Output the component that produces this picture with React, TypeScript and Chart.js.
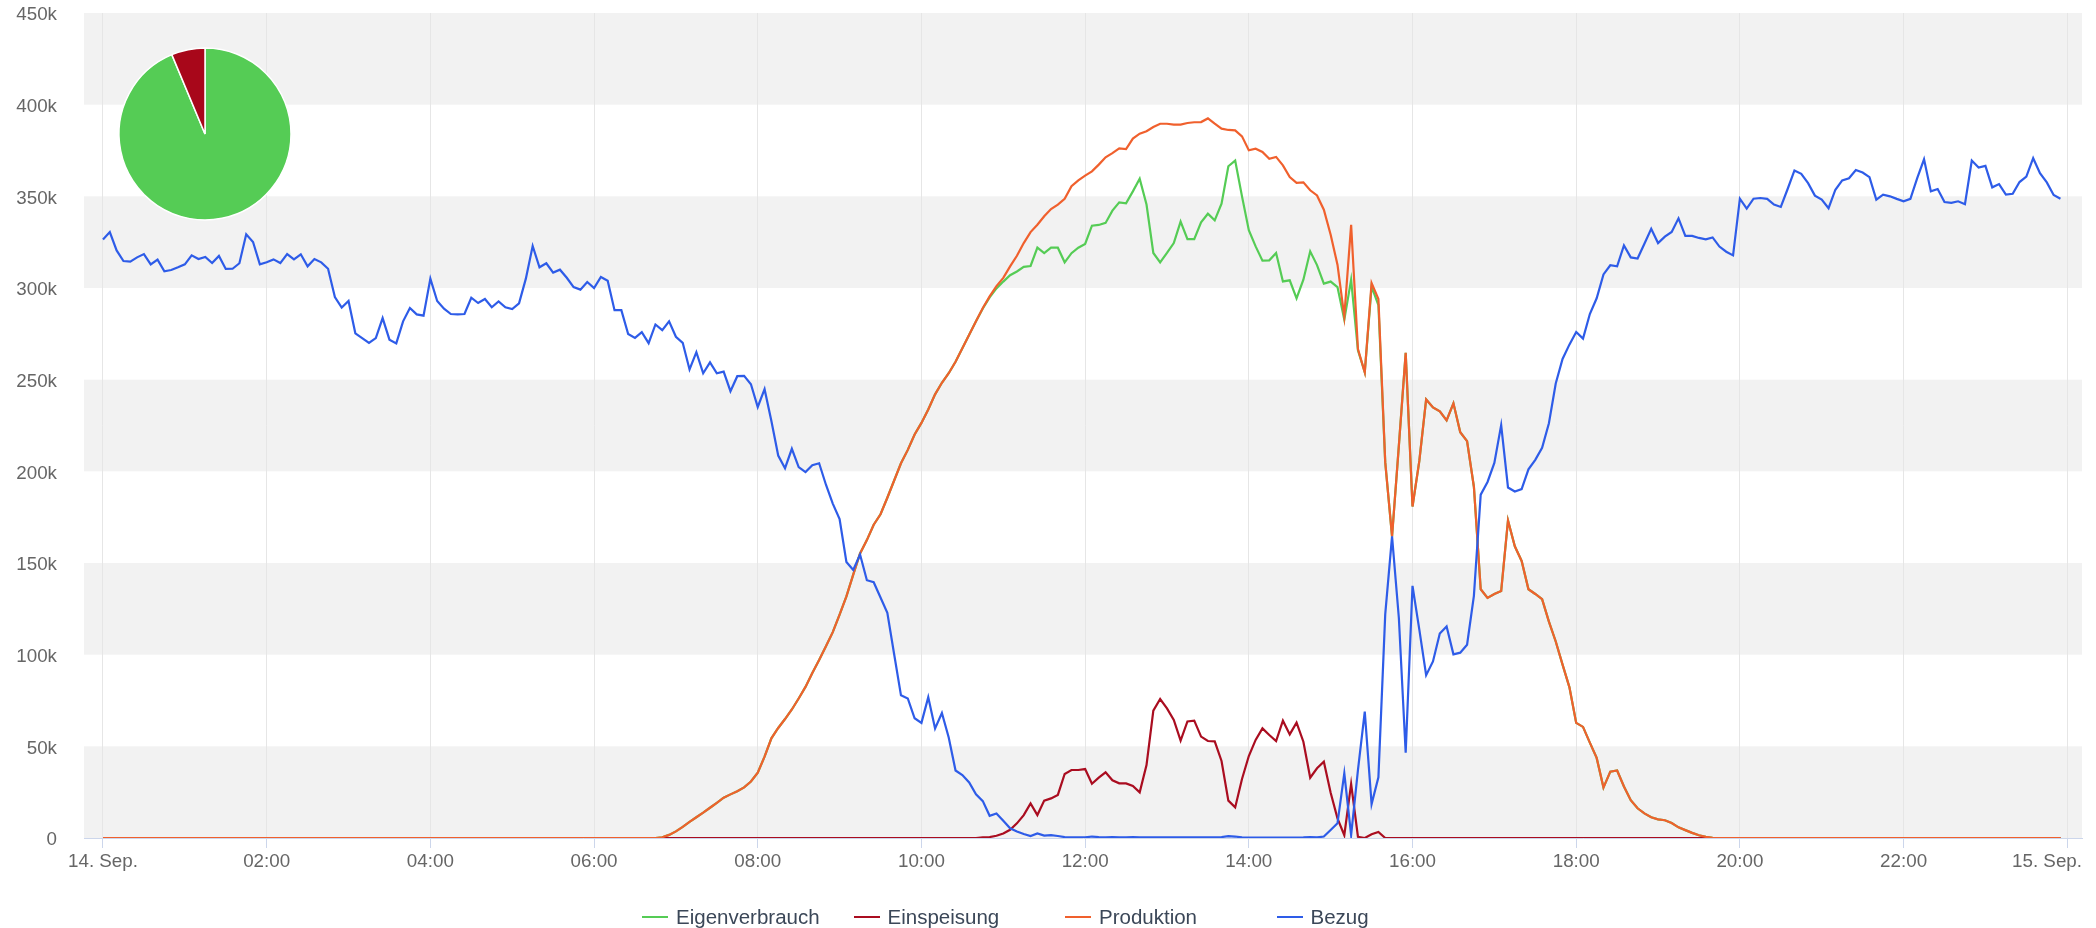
import React, { useEffect, useRef } from "react";
import { Chart, registerables } from "chart.js";

Chart.register(...registerables);

// ---------- data (values in thousands) ----------
const STEP_MINUTES = 5;

const seriesNames = ["Eigenverbrauch", "Einspeisung", "Produktion", "Bezug"];
const seriesColors = ["#55cc55", "#aa0d20", "#f0602d", "#2e5ce8"];

const xTickHours = [0, 2, 4, 6, 8, 10, 12, 14, 16, 18, 20, 22, 24];
const xTickLabels = ["14. Sep.", "02:00", "04:00", "06:00", "08:00", "10:00", "12:00", "14:00", "16:00", "18:00", "20:00", "22:00", "15. Sep."];

const yTickValues = [0, 50, 100, 150, 200, 250, 300, 350, 400, 450];
const yTickLabels = ["0", "50k", "100k", "150k", "200k", "250k", "300k", "350k", "400k", "450k"];

const bandRanges = [[0, 50], [100, 150], [200, 250], [300, 350], [400, 450]];

const eigenverbrauch = [
  0, 0, 0, 0, 0, 0, 0, 0, 0, 0, 0, 0,
  0, 0, 0, 0, 0, 0, 0, 0, 0, 0, 0, 0,
  0, 0, 0, 0, 0, 0, 0, 0, 0, 0, 0, 0,
  0, 0, 0, 0, 0, 0, 0, 0, 0, 0, 0, 0,
  0, 0, 0, 0, 0, 0, 0, 0, 0, 0, 0, 0,
  0, 0, 0, 0, 0, 0, 0, 0, 0, 0, 0, 0,
  0, 0, 0, 0, 0, 0, 0, 0, 0, 0, 0.4, 1.7,
  3.6, 6.1, 8.8, 11.3, 13.8, 16.5, 19.2, 22, 23.8, 25.5, 27.6, 30.8,
  35.6, 44.4, 54.4, 60, 64.9, 70.1, 76.1, 82.4, 90, 97.1, 104.6, 112.3,
  121.8, 131.8, 143.7, 155.2, 162.5, 170.9, 176.6, 185.6, 195, 204.4, 211.7, 220.1,
  226.4, 233.7, 242, 248.3, 253.5, 259.8, 267.1, 274.5, 281.8, 288.8, 294.9, 299.8,
  303.5, 307, 309, 311.5, 312, 322, 319, 322, 322, 314, 319, 322,
  324, 334, 334.4, 335.5, 342.2, 346.7, 346.2, 352.7, 359.6, 345.5, 319.1, 314,
  319.1, 324.5, 336.2, 326.7, 326.7, 335.8, 340.5, 336.9, 346, 366.4, 369.5, 350,
  331.5, 322.7, 314.9, 315.1, 319.1, 303.6, 304.2, 294.4, 304.5, 320, 312.5, 302.4,
  303.5, 300.5, 282.7, 304.5, 266, 254, 300.7, 290.7, 205, 164.5, 214, 264.6,
  180.8, 205.7, 239.2, 234.9, 232.7, 227.8, 237.1, 221.3, 216.5, 191.6, 135.7, 131,
  133.1, 134.7, 173.2, 159.1, 151.1, 135.7, 133.1, 130.3, 118, 107.2, 94.6, 82.3,
  62.8, 60.6, 52, 43.7, 27.5, 36.2, 36.8, 28.1, 20.6, 16.2, 13.4, 11.3,
  10.2, 9.7, 8.2, 5.8, 4.3, 2.8, 1.5, 0.6, 0.1, 0, 0, 0,
  0, 0, 0, 0, 0, 0, 0, 0, 0, 0, 0, 0,
  0, 0, 0, 0, 0, 0, 0, 0, 0, 0, 0, 0,
  0, 0, 0, 0, 0, 0, 0, 0, 0, 0, 0, 0,
  0, 0, 0, 0, 0, 0, 0, 0, 0, 0, 0, 0,
];

const einspeisung = [
  0, 0, 0, 0, 0, 0, 0, 0, 0, 0, 0, 0,
  0, 0, 0, 0, 0, 0, 0, 0, 0, 0, 0, 0,
  0, 0, 0, 0, 0, 0, 0, 0, 0, 0, 0, 0,
  0, 0, 0, 0, 0, 0, 0, 0, 0, 0, 0, 0,
  0, 0, 0, 0, 0, 0, 0, 0, 0, 0, 0, 0,
  0, 0, 0, 0, 0, 0, 0, 0, 0, 0, 0, 0,
  0, 0, 0, 0, 0, 0, 0, 0, 0, 0, 0, 0,
  0, 0, 0, 0, 0, 0, 0, 0, 0, 0, 0, 0,
  0, 0, 0, 0, 0, 0, 0, 0, 0, 0, 0, 0,
  0, 0, 0, 0, 0, 0, 0, 0, 0, 0, 0, 0,
  0, 0, 0, 0, 0, 0, 0, 0, 0, 0.3, 0.5, 1.2,
  2.5, 4.5, 8, 12.5, 18.9, 12.5, 20.4, 21.6, 23.5, 34.9, 37.1, 37.1,
  37.6, 29.6, 32.9, 35.8, 31.5, 29.8, 29.8, 28.4, 24.9, 39.8, 69.5, 75.8,
  70.7, 64.4, 53.1, 63.6, 64, 55.3, 52.9, 52.7, 42, 20.4, 16.7, 32.2,
  44.7, 53.5, 59.8, 56.2, 52.9, 64, 56.5, 62.9, 52.5, 32.9, 38, 41.6,
  24.7, 10.7, 1.5, 29.5, 0.7, 0, 2, 3.3, 0, 0, 0, 0,
  0, 0, 0, 0, 0, 0, 0, 0, 0, 0, 0, 0,
  0, 0, 0, 0, 0, 0, 0, 0, 0, 0, 0, 0,
  0, 0, 0, 0, 0, 0, 0, 0, 0, 0, 0, 0,
  0, 0, 0, 0, 0, 0, 0, 0, 0, 0, 0, 0,
  0, 0, 0, 0, 0, 0, 0, 0, 0, 0, 0, 0,
  0, 0, 0, 0, 0, 0, 0, 0, 0, 0, 0, 0,
  0, 0, 0, 0, 0, 0, 0, 0, 0, 0, 0, 0,
  0, 0, 0, 0, 0, 0, 0, 0, 0, 0, 0, 0,
];

const produktion = [
  0, 0, 0, 0, 0, 0, 0, 0, 0, 0, 0, 0,
  0, 0, 0, 0, 0, 0, 0, 0, 0, 0, 0, 0,
  0, 0, 0, 0, 0, 0, 0, 0, 0, 0, 0, 0,
  0, 0, 0, 0, 0, 0, 0, 0, 0, 0, 0, 0,
  0, 0, 0, 0, 0, 0, 0, 0, 0, 0, 0, 0,
  0, 0, 0, 0, 0, 0, 0, 0, 0, 0, 0, 0,
  0, 0, 0, 0, 0, 0, 0, 0, 0, 0, 0.4, 1.7,
  3.6, 6.1, 8.8, 11.3, 13.8, 16.5, 19.2, 22, 23.8, 25.5, 27.6, 30.8,
  35.6, 44.4, 54.4, 60, 64.9, 70.1, 76.1, 82.4, 90, 97.1, 104.6, 112.3,
  121.8, 131.8, 143.7, 155.2, 162.5, 170.9, 176.6, 185.6, 195, 204.4, 211.7, 220.1,
  226.4, 233.7, 242, 248.3, 253.5, 259.8, 267.1, 274.5, 281.8, 289.1, 295.4, 301,
  305.5, 311.8, 317.6, 324.5, 330.5, 334.5, 339.1, 343.1, 345.5, 348.7, 355.5, 358.7,
  361.3, 363.6, 367.3, 371.3, 373.6, 376.2, 375.8, 381.5, 384.2, 385.5, 387.8, 389.6,
  389.6, 389.1, 389.1, 390, 390.4, 390.5, 392.5, 389.6, 386.9, 386.2, 386, 382.7,
  375.1, 376, 374.2, 370.5, 371.5, 366.9, 360.5, 357.3, 357.6, 353.3, 350.5, 342.7,
  329.1, 312.7, 284.5, 334.5, 266.7, 254, 302.7, 294, 205, 164.5, 214, 264.6,
  180.8, 205.7, 239.2, 234.9, 232.7, 227.8, 237.1, 221.3, 216.5, 191.6, 135.7, 131,
  133.1, 134.7, 173.2, 159.1, 151.1, 135.7, 133.1, 130.3, 118, 107.2, 94.6, 82.3,
  62.8, 60.6, 52, 43.7, 27.5, 36.2, 36.8, 28.1, 20.6, 16.2, 13.4, 11.3,
  10.2, 9.7, 8.2, 5.8, 4.3, 2.8, 1.5, 0.6, 0.1, 0, 0, 0,
  0, 0, 0, 0, 0, 0, 0, 0, 0, 0, 0, 0,
  0, 0, 0, 0, 0, 0, 0, 0, 0, 0, 0, 0,
  0, 0, 0, 0, 0, 0, 0, 0, 0, 0, 0, 0,
  0, 0, 0, 0, 0, 0, 0, 0, 0, 0, 0, 0,
];

const bezug = [
  326.5, 330.5, 320.5, 314.7, 314.4, 316.7, 318.5, 312.9, 315.5, 309.1, 309.8, 311.3,
  312.9, 317.8, 315.8, 316.9, 313.6, 317.5, 310.4, 310.5, 313.5, 329.3, 325.1, 312.9,
  314, 315.6, 313.6, 318.5, 315.6, 318.4, 311.8, 315.8, 314, 310.5, 295.1, 289.3,
  292.9, 275.3, 272.7, 270, 272.7, 283.6, 271.8, 269.8, 281.8, 289.1, 285.6, 284.9,
  305.1, 292.9, 288.7, 285.8, 285.6, 285.8, 294.7, 291.8, 294, 289.5, 292.7, 289.5,
  288.5, 291.6, 305.1, 322.9, 311.3, 313.5, 308.4, 310, 305.6, 300.5, 299.1, 303.3,
  300, 306, 304, 287.9, 287.9, 274.9, 272.8, 275.9, 269.9, 280.1, 277, 281.8,
  273.4, 270.1, 255.6, 265, 253.5, 259.4, 253.5, 254.4, 243.7, 251.9, 252.1, 247.5,
  235.1, 244.8, 227.4, 208.6, 201.7, 212.3, 202.3, 199.6, 203.3, 204.4, 192.7, 182.4,
  174, 150.6, 146.2, 154.6, 140.6, 139.5, 131.2, 122.8, 100.2, 77.8, 76.1, 65.3,
  62.8, 76.8, 59.8, 68.2, 54.8, 36.8, 34.3, 30.3, 23.8, 20.1, 12.1, 13.4,
  9.4, 5.3, 3.5, 2.2, 1.1, 2.5, 1.3, 1.6, 1.1, 0.5, 0.3, 0.3,
  0.3, 0.8, 0.5, 0.3, 0.5, 0.3, 0.3, 0.5, 0.3, 0.3, 0.3, 0.3,
  0.3, 0.3, 0.3, 0.3, 0.3, 0.3, 0.3, 0.3, 0.5, 1, 0.8, 0.3,
  0.2, 0.2, 0.2, 0.2, 0.2, 0.2, 0.2, 0.2, 0.3, 0.5, 0.3, 0.8,
  4.4, 8, 35.3, 1.6, 37, 68.9, 18.5, 33.1, 122, 164.5, 120, 46.5,
  137.5, 113.7, 88.8, 96.3, 111.5, 115.4, 100.2, 101.1, 105.4, 132.1, 187.3, 194.2,
  204.6, 225.2, 191.2, 189, 190.3, 201.1, 206.3, 212.8, 226.2, 247.9, 261.3, 269.1,
  276, 272.4, 285.8, 294.4, 307.4, 312.4, 311.8, 323.2, 316.7, 316.1, 324.1, 332.3,
  324.5, 328, 330.6, 338, 328.4, 328.4, 327.3, 326.5, 327.6, 322.6, 319.8, 317.8,
  348.7, 343.3, 348.7, 349.1, 348.6, 345.5, 344.2, 354, 364.1, 362.3, 357.2, 350.4,
  348.2, 343.5, 353.6, 358.7, 359.9, 364.4, 363, 360.5, 348.2, 350.9, 350, 348.6,
  347.3, 348.6, 359.9, 370.2, 352.7, 354, 346.9, 346.4, 347.3, 345.7, 369.5, 365.7,
  366.6, 354.9, 356.7, 350.9, 351.4, 357.8, 360.8, 370.8, 362.6, 357.6, 350.7, 348.7,
];

const pieLabels = ["Eigenverbrauch", "Einspeisung"];
const pieValues = [93.7, 6.3];
const pieColors = ["#55cc55", "#a8071a"];

// ---------- layout / style ----------
const W = 2096;
const H = 928;
const FONT = '"Liberation Sans", Arial, Helvetica, sans-serif';
const LABEL_COLOR = "#666666";
const AXIS_FONT_SIZE = 18.8;

const bandPlugin = {
  id: "bands",
  beforeDraw(chart: any) {
    const { ctx, chartArea, scales } = chart;
    const y = scales.y;
    ctx.save();
    ctx.fillStyle = "#f2f2f2";
    for (const [a, b] of bandRanges) {
      const top = y.getPixelForValue(b);
      const bottom = y.getPixelForValue(a);
      ctx.fillRect(chartArea.left, top, chartArea.right - chartArea.left, bottom - top);
    }
    ctx.restore();
  },
};

// x labels centred on their ticks, justified so they stay inside the plot's right edge
const xLabelPlugin = {
  id: "xLabels",
  afterDraw(chart: any) {
    const { ctx, chartArea, scales } = chart;
    const x = scales.x;
    ctx.save();
    ctx.font = `${AXIS_FONT_SIZE}px ${FONT}`;
    ctx.fillStyle = LABEL_COLOR;
    ctx.textBaseline = "middle";
    ctx.textAlign = "left";
    x.ticks.forEach((t: any, i: number) => {
      const label = xTickLabels[i];
      const w = ctx.measureText(label).width;
      let left = x.getPixelForValue(t.value) - w / 2;
      left = Math.min(left, chartArea.right - w);
      left = Math.max(left, 0);
      ctx.fillText(label, left, x.top + 24);
    });
    ctx.restore();
  },
};

const allSeries = [eigenverbrauch, einspeisung, produktion, bezug];

export default function App() {
  const mainRef = useRef<HTMLCanvasElement | null>(null);
  const pieRef = useRef<HTMLCanvasElement | null>(null);

  useEffect(() => {
    if (!mainRef.current || !pieRef.current) return;
    const main = new Chart(mainRef.current, {
      type: "line",
      data: {
        datasets: seriesNames.map((name, k) => ({
          label: name,
          data: allSeries[k].map((v, i) => ({ x: (i * STEP_MINUTES) / 60, y: v })),
          borderColor: seriesColors[k],
          backgroundColor: seriesColors[k],
          borderWidth: 2.2,
          pointRadius: 0,
          pointHoverRadius: 0,
          tension: 0,
          fill: false,
          order: 4 - k,
        })),
      },
      options: {
        responsive: false,
        animation: false,
        events: [],
        layout: { padding: { left: 0, right: 14, top: 13, bottom: 0 } },
        plugins: { legend: { display: false }, tooltip: { enabled: false } },
        scales: {
          x: {
            type: "linear",
            min: -0.232,
            max: 24.18,
            bounds: "data",
            afterBuildTicks: (s: any) => {
              s.ticks = xTickHours.map((v) => ({ value: v }));
            },
            afterFit: (s: any) => {
              s.height = 90;
              s.paddingLeft = 0;
              s.paddingRight = 0;
            },
            ticks: { display: false, autoSkip: false, maxRotation: 0, minRotation: 0 },
            grid: { color: "#e6e6e6", tickColor: "#ccd6eb", tickLength: 10, lineWidth: 1 },
            border: { color: "#ccd6eb", width: 1 },
          },
          y: {
            min: 0,
            max: 450,
            afterBuildTicks: (s: any) => {
              s.ticks = yTickValues.map((v) => ({ value: v }));
            },
            afterFit: (s: any) => {
              s.width = 84;
              s.paddingTop = 0;
              s.paddingBottom = 0;
            },
            ticks: {
              padding: 27,
              labelOffset: 2,
              color: LABEL_COLOR,
              font: { family: FONT, size: AXIS_FONT_SIZE },
              callback: (_v: any, idx: number) => yTickLabels[idx],
            },
            grid: { display: false, drawTicks: false },
            border: { display: false },
          },
        },
      },
      plugins: [bandPlugin, xLabelPlugin],
    } as any);

    const pie = new Chart(pieRef.current, {
      type: "pie",
      data: {
        labels: pieLabels,
        datasets: [
          {
            data: pieValues,
            backgroundColor: pieColors,
            borderColor: "#ffffff",
            borderWidth: 1.5,
            radius: 86,
          } as any,
        ],
      },
      options: {
        responsive: false,
        animation: false,
        events: [],
        layout: { padding: 0 },
        plugins: { legend: { display: false }, tooltip: { enabled: false } },
      },
    } as any);

    return () => {
      main.destroy();
      pie.destroy();
    };
  }, []);

  const legendStart = 642;
  const legendStep = 211.5;

  return (
    <div style={{ position: "fixed", left: 0, top: 0, width: W, height: H, background: "#ffffff", overflow: "hidden" }}>
      <canvas ref={mainRef} width={W} height={H} style={{ position: "absolute", left: 0, top: 0, width: W, height: H }} />
      <canvas ref={pieRef} width={200} height={200} style={{ position: "absolute", left: 105, top: 34, width: 200, height: 200 }} />
      {seriesNames.map((name, k) => (
        <div
          key={name}
          style={{
            position: "absolute",
            left: legendStart + k * legendStep,
            top: 905,
            height: 24,
            display: "flex",
            alignItems: "center",
            whiteSpace: "nowrap",
          }}
        >
          <span style={{ display: "inline-block", width: 26, height: 2, background: seriesColors[k], marginRight: 8 }} />
          <span style={{ fontFamily: FONT, fontSize: 20.5, color: "#3b4758", lineHeight: "24px" }}>{name}</span>
        </div>
      ))}
    </div>
  );
}
